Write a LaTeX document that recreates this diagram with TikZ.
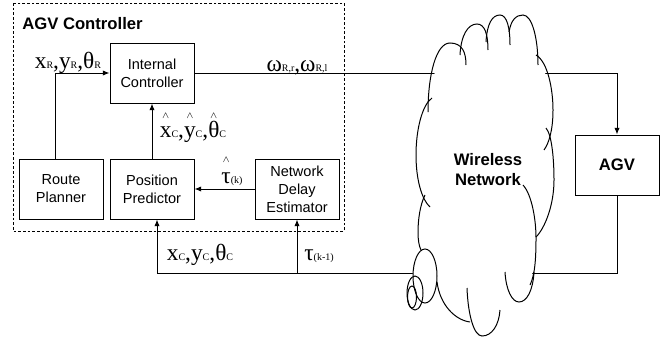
\documentclass[tikz,border=0pt]{standalone}
\usepackage{fontspec}
\setmainfont{Liberation Sans}
\newfontfamily\serif{Liberation Serif}
\usepackage{tikz}
\usetikzlibrary{arrows.meta, positioning}

\newsavebox\hatbox
\newcommand{\lsub}[1]{\raisebox{-0.6pt}{\fontsize{7.5}{8}\selectfont #1}}
\newcommand{\hatted}[2][14pt]{\leavevmode\sbox\hatbox{#2}\rlap{\hbox to\wd\hatbox{\hss\raisebox{#1}{\fontsize{10}{10}\selectfont$\scriptstyle\wedge$}\hss}}\usebox\hatbox}

\begin{document}
\begin{tikzpicture}[x=0.75pt, y=-0.75pt,
                node distance=4.5pt,
                block/.style={rectangle, draw=black, line width=0.75pt, minimum width=63pt, minimum height=45pt, align=center, inner sep=1pt, font=\fontsize{10.9}{13.5}\selectfont},
                bigblock/.style={block, font=\bfseries\fontsize{12.5}{15}\selectfont},
                sig/.style={font=\serif\fontsize{17.5}{19}\selectfont, inner sep=0pt, anchor=base},
                arrow/.style={-{Latex[length=5pt,width=4pt]}, line width=0.75pt},
                puff/.style={line width=0.75pt}
            ]
                \useasboundingbox (0,0) rectangle (666,339);

                % controller frame
                \draw[dash pattern=on 2pt off 1.5pt, line width=0.6pt] (13,3) rectangle (344,231);
                \node[anchor=west, inner sep=0pt, font=\bfseries\fontsize{12.5}{15}\selectfont] (title) at (22,24) {AGV Controller};

                \node[block] (rp) at (61,189) {Route\\Planner};
                \node[block, right=4.5pt of rp] (pp) {Position\\Predictor};
                \node[block, right=45pt of pp] (nde) {Network\\Delay\\Estimator};
                \node[block, above=41.25pt of pp] (ic) {Internal\\Controller};
                \node[bigblock] (agv) at (617,165) {AGV};

                \coordinate (fb) at (157,273);

                \draw[arrow] ([xshift=-4.5pt]rp.north) |- (ic.west);
                \draw[arrow] (pp.north) -- (ic.south);
                \draw[arrow] (nde.west) -- (pp.east);
                \draw[arrow] (ic.east) -| (agv.north);
                \draw[arrow] (agv.south) |- (fb) -- (fb |- pp.south);
                \draw[arrow] (nde.south |- fb) -- (nde.south);

                % signal labels
                \node[sig] (ref) at (68,68) {x\lsub{R},y\lsub{R},θ\lsub{R}};
                \node[sig] (est) at (193,137) {\hatted{x}\lsub{C},\hatted{y}\lsub{C},\hatted{θ}\lsub{C}};
                \node[sig] (tauk) at (232,183) {\hatted[15.5pt]{τ}\lsub{(k)}};
                \node[sig] (omega) at (297,71) {ω\lsub{R,r},ω\lsub{R,l}};
                \node[sig] (meas) at (200,260) {x\lsub{C},y\lsub{C},θ\lsub{C}};
                \node[sig] (taukm) at (319,260) {τ\lsub{(k-1)}};

                % wireless network cloud
                \fill[white] (430,82) -- (450,45) -- (477,26) -- (500,17) -- (523,17) -- (537,45) -- (550,90)
                    -- (552,140) -- (552,190) -- (536,236) -- (533,272) -- (518,300) -- (497,326) -- (484,333)
                    -- (470,318) -- (440,297) -- (425,302) -- (412,292) -- (413,272) -- (419,250) -- (417,210)
                    -- (416,150) -- (428,110) -- cycle;
                \draw[puff] (428,112) .. controls (428,75) and (436,43) .. (450,43) .. controls (462,43) and (466,52) .. (466,65);
                \draw[puff] (460,55) .. controls (461,35) and (468,24) .. (477,24) .. controls (485,24) and (488,35) .. (488,50);
                \draw[puff] (486,42) .. controls (487,24) and (492,15) .. (500,15) .. controls (507,15) and (510,28) .. (510,45);
                \draw[puff] (509,32) .. controls (511,20) and (516,15) .. (523,15) .. controls (532,15) and (538,38) .. (538,65);
                \draw[puff] (536,55) .. controls (548,62) and (553,90) .. (553,110) .. controls (553,130) and (549,143) .. (544,150);
                \draw[puff] (546,128) .. controls (552,135) and (554,160) .. (554,180) .. controls (554,205) and (545,228) .. (536,237);
                \draw[puff] (523,185) .. controls (532,195) and (536,220) .. (536,238) .. controls (536,258) and (535,275) .. (530,285);
                \draw[puff] (505,272) .. controls (506,290) and (512,302) .. (519,302) .. controls (527,302) and (533,290) .. (534,272);
                \draw[puff] (467,288) .. controls (468,315) and (474,336) .. (482,336) .. controls (492,336) and (499,325) .. (500,310);
                \draw[puff] (437,282) .. controls (440,305) and (455,320) .. (470,322);
                \draw[puff] (432,98) .. controls (422,105) and (416,130) .. (416,155) .. controls (416,180) and (422,200) .. (430,207);
                \draw[puff] (425,195) .. controls (420,205) and (418,220) .. (418,232) .. controls (418,240) and (419,246) .. (421,250);
                \draw[puff] (425,276) ellipse[x radius=12, y radius=27];
                \draw[puff] (415,293) ellipse[x radius=8, y radius=17];
                \draw[puff] (412,297) ellipse[x radius=4.5, y radius=11];
                \node[font=\bfseries\fontsize{12.5}{15}\selectfont, align=center] (wn) at (488,170) {Wireless\\Network};
            \end{tikzpicture}
\end{document}
